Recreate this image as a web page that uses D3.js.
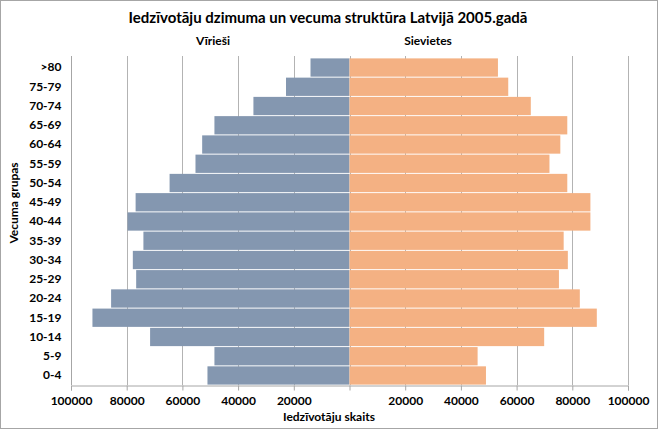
<!DOCTYPE html>
<html>
<head>
<meta charset="utf-8">
<script src="https://cdn.jsdelivr.net/npm/d3@7"></script>
<style>
  html, body { margin: 0; padding: 0; background: #fff; }
  svg { display: block; font-family: Lato, "Open Sans", sans-serif; }
</style>
</head>
<body>
<div id="chart"></div>
<script>
// age groups, top to bottom as drawn
const ageGroups = [">80", "75-79", "70-74", "65-69", "60-64", "55-59", "50-54", "45-49",
  "40-44", "35-39", "30-34", "25-29", "20-24", "15-19", "10-14", "5-9", "0-4"];
const males = [14000, 22800, 34500, 48500, 52900, 55300, 64600, 76800,
  79700, 74000, 77800, 76600, 85600, 92300, 71600, 48500, 51000];
const females = [53300, 57000, 65100, 78200, 75700, 71800, 78200, 86500,
  86500, 76900, 78400, 75200, 82700, 88800, 69900, 46000, 49000];
const tickValues = [-100000, -80000, -60000, -40000, -20000, 0, 20000, 40000, 60000, 80000, 100000];

const width = 658, height = 430;
const plot = { left: 71, right: 628, top: 58, bottom: 385 };

const svg = d3.select("#chart").append("svg")
  .attr("width", width)
  .attr("height", height);

// frame
svg.append("rect")
  .attr("x", 0.5).attr("y", 0.5)
  .attr("width", width - 1).attr("height", height - 2)
  .attr("fill", "#fff")
  .attr("stroke", "#a6a6a6");

const x = d3.scaleLinear().domain([-100000, 100000]).range([plot.left, plot.right]);
const y = d3.scaleBand().domain(ageGroups).range([plot.top, plot.bottom]).paddingInner(0.05).paddingOuter(0.02);

// gridlines
svg.append("g")
  .selectAll("line")
  .data(tickValues.filter(v => v !== -100000))
  .join("line")
  .attr("x1", d => Math.round(x(d)) + 0.5)
  .attr("x2", d => Math.round(x(d)) + 0.5)
  .attr("y1", plot.top - 2)
  .attr("y2", plot.bottom)
  .attr("stroke", "#b3b3b3");

// bars
svg.append("g")
  .selectAll("rect")
  .data(ageGroups)
  .join("rect")
  .attr("x", (d, i) => x(-males[i]))
  .attr("y", d => y(d))
  .attr("width", (d, i) => x(0) - x(-males[i]))
  .attr("height", y.bandwidth())
  .attr("fill", "#8497b0");

svg.append("g")
  .selectAll("rect")
  .data(ageGroups)
  .join("rect")
  .attr("x", x(0))
  .attr("y", d => y(d))
  .attr("width", (d, i) => x(females[i]) - x(0))
  .attr("height", y.bandwidth())
  .attr("fill", "#f4b183");

// x axis
const xAxis = d3.axisBottom(x)
  .tickValues(tickValues)
  .tickFormat(d => Math.abs(d))
  .tickSize(5)
  .tickPadding(4);

const gx = svg.append("g")
  .attr("transform", `translate(0,${plot.bottom + 0.5})`)
  .call(xAxis);
gx.select(".domain").attr("stroke", "#a6a6a6");
gx.selectAll(".tick line").attr("stroke", "#a6a6a6");
gx.selectAll(".tick text")
  .attr("font-family", "Lato, sans-serif")
  .attr("font-size", 12)
  .attr("font-weight", "bold")
  .attr("fill", "#000")
  .attr("dy", "0.9em");
gx.selectAll(".tick").filter(d => d === 0).select("text").remove();

// y axis
const yAxis = d3.axisLeft(y).tickSize(0).tickPadding(10);
const gy = svg.append("g")
  .attr("transform", `translate(${plot.left + 0.5},0)`)
  .call(yAxis);
gy.select(".domain").attr("stroke", "#a6a6a6").attr("d", `M0,${plot.top - 2}V${plot.bottom}`);
gy.selectAll(".tick text")
  .attr("font-family", "Lato, sans-serif")
  .attr("font-size", 12)
  .attr("font-weight", "bold")
  .attr("fill", "#000");

// titles
svg.append("text")
  .attr("x", 328).attr("y", 23)
  .attr("text-anchor", "middle")
  .attr("font-size", 15)
  .attr("font-weight", "bold")
  .text("Iedzīvotāju dzimuma un vecuma struktūra Latvijā 2005.gadā");

svg.append("text")
  .attr("x", 213).attr("y", 45)
  .attr("text-anchor", "middle")
  .attr("font-size", 12)
  .attr("font-weight", "bold")
  .text("Vīrieši");

svg.append("text")
  .attr("x", 428).attr("y", 45)
  .attr("text-anchor", "middle")
  .attr("font-size", 12)
  .attr("font-weight", "bold")
  .text("Sievietes");

svg.append("text")
  .attr("x", 329).attr("y", 421)
  .attr("text-anchor", "middle")
  .attr("font-size", 12)
  .attr("font-weight", "bold")
  .text("Iedzīvotāju skaits");

svg.append("text")
  .attr("transform", "translate(18,203) rotate(-90)")
  .attr("text-anchor", "middle")
  .attr("font-size", 12)
  .attr("font-weight", "bold")
  .text("Vecuma grupas");
</script>
</body>
</html>
